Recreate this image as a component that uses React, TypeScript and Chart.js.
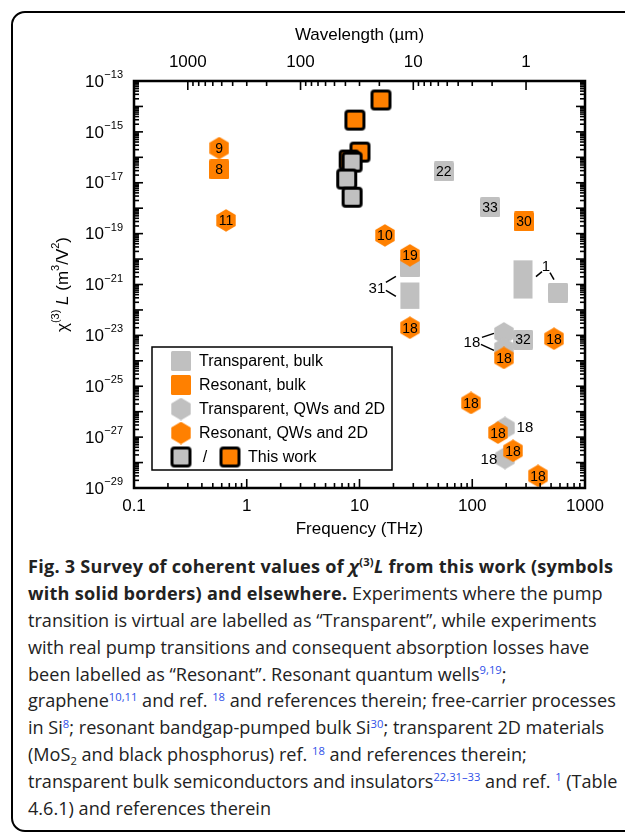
import React, { useEffect, useRef } from 'react';
import { Chart, registerables } from 'chart.js';

Chart.register(...registerables);

const FONT = '"Liberation Sans", Arial, Helvetica, sans-serif';
const ORANGE = '#ff8000';
const GRAY = '#c0c0c0';

// x: frequency (THz), y: chi(3)L (m^3/V^2)
const transparentBulkFreq = [56, 144, 282, 576, 28];
const transparentBulkChi = [2.8e-17, 1.1e-18, 6.8e-24, 4.8e-22, 4.7e-21];
const transparentBulkRefs = ['22', '33', '32', '', ''];

const transparentRangeFreq = [28, 282];
const transparentRangeLow = [1.1e-22, 2.8e-22];
const transparentRangeHigh = [1.2e-21, 8.9e-21];

const resonantBulkFreq = [0.57, 288];
const resonantBulkChi = [3.4e-17, 3.0e-19];
const resonantBulkRefs = ['8', '30'];

const transparentQwFreq = [191, 191, 195, 195];
const transparentQwChi = [1.2e-23, 3.0e-24, 2.3e-27, 1.5e-28];

const resonantQwFreq = [0.57, 0.655, 16.8, 28, 28, 191, 531, 97.5, 169, 230, 383];
const resonantQwChi = [2.3e-16, 3.3e-19, 8.5e-20, 1.4e-20, 2.0e-23, 1.3e-24, 7.4e-24, 2.2e-26, 1.5e-27, 2.9e-28, 3.0e-29];
const resonantQwRefs = ['9', '11', '10', '19', '18', '18', '18', '18', '18', '18', '18'];

const thisWorkTransparentFreq = [8.6, 7.7, 8.6];
const thisWorkTransparentChi = [6.5e-17, 1.4e-17, 2.7e-18];
const thisWorkResonantFreq = [15.5, 9.1, 10.1, 8.1];
const thisWorkResonantChi = [1.8e-14, 2.9e-15, 1.6e-16, 7.8e-17];

const freqTickLabels = ['0.1', '1', '10', '100', '1000'];
const wavelengthTickLabels = ['1000', '100', '10', '1'];
const chiTickExponents = [-13, -15, -17, -19, -21, -23, -25, -27, -29];

const pts = (xs: number[], ys: number[]) => xs.map((x, i) => ({ x, y: ys[i] }));

function hexCanvas(fill: string) {
  const c = document.createElement('canvas');
  c.width = 20;
  c.height = 23;
  const g = c.getContext('2d')!;
  const R = 11.2, cx = 10, cy = 11.5;
  g.beginPath();
  for (let i = 0; i < 6; i++) {
    const a = (Math.PI / 3) * i - Math.PI / 2;
    g.lineTo(cx + R * Math.cos(a), cy + R * Math.sin(a));
  }
  g.closePath();
  g.fillStyle = fill;
  g.fill();
  return c;
}

function rr(g: CanvasRenderingContext2D, x: number, y: number, w: number, h: number, r: number) {
  g.beginPath();
  g.moveTo(x + r, y);
  g.arcTo(x + w, y, x + w, y + h, r);
  g.arcTo(x + w, y + h, x, y + h, r);
  g.arcTo(x, y + h, x, y, r);
  g.arcTo(x, y, x + w, y, r);
  g.closePath();
}

function squareCanvas(fill: string, bordered: boolean) {
  const c = document.createElement('canvas');
  c.width = bordered ? 23 : 20;
  c.height = c.width;
  const g = c.getContext('2d')!;
  if (bordered) {
    rr(g, 2.5, 2.5, 18, 18, 2.5);
    g.fillStyle = fill;
    g.fill();
    g.lineWidth = 3;
    g.strokeStyle = '#000';
    g.stroke();
  } else {
    rr(g, 0, 0, 20, 20, 1.5);
    g.fillStyle = fill;
    g.fill();
  }
  return c;
}

export default function App() {
  const ref = useRef<HTMLCanvasElement>(null);

  useEffect(() => {
    const canvas = ref.current!;
    const hexO = hexCanvas(ORANGE);
    const hexG = hexCanvas(GRAY);
    const sqO = squareCanvas(ORANGE, false);
    const sqG = squareCanvas(GRAY, false);
    const twO = squareCanvas(ORANGE, true);
    const twG = squareCanvas(GRAY, true);

    const rangeSets = transparentRangeFreq.map((f, i) => ({
      key: 'range' + i,
      label: 'Transparent, bulk (range)',
      data: [{ x: f, y: transparentRangeLow[i] }, { x: f, y: transparentRangeHigh[i] }],
      showLine: true,
      borderColor: GRAY,
      borderWidth: 19,
      borderCapStyle: 'butt',
      pointRadius: 0,
      order: 6,
    }));

    const datasets: any[] = [
      { key: 'thisWorkTransparent', label: 'This work', data: pts(thisWorkTransparentFreq, thisWorkTransparentChi), pointStyle: twG, pointRadius: 10, order: 0 },
      { key: 'thisWorkResonant', label: 'This work', data: pts(thisWorkResonantFreq, thisWorkResonantChi), pointStyle: twO, pointRadius: 10, order: 1 },
      { key: 'resonantQw', label: 'Resonant, QWs and 2D', data: pts(resonantQwFreq, resonantQwChi), refs: resonantQwRefs, pointStyle: hexO, pointRadius: 10, order: 2 },
      { key: 'resonantBulk', label: 'Resonant, bulk', data: pts(resonantBulkFreq, resonantBulkChi), refs: resonantBulkRefs, pointStyle: sqO, pointRadius: 10, order: 3 },
      { key: 'transparentQw', label: 'Transparent, QWs and 2D', data: pts(transparentQwFreq, transparentQwChi), pointStyle: hexG, pointRadius: 10, order: 4 },
      { key: 'transparentBulk', label: 'Transparent, bulk', data: pts(transparentBulkFreq, transparentBulkChi), refs: transparentBulkRefs, pointStyle: sqG, pointRadius: 10, order: 5 },
      ...rangeSets,
    ];

    const decor = {
      id: 'decor',
      afterDatasetsDraw(chart: any) {
        const { ctx, chartArea: a } = chart;
        const sx = chart.scales.x, sy = chart.scales.y, sw = chart.scales.wl;
        ctx.save();

        const point = (key: string, idx: number) => {
          const di = chart.data.datasets.findIndex((d: any) => d.key === key);
          const el = chart.getDatasetMeta(di).data[idx];
          return { x: el.x, y: el.y };
        };

        // reference numbers inside markers
        ctx.font = `14px ${FONT}`;
        ctx.fillStyle = '#000';
        ctx.textAlign = 'center';
        ctx.textBaseline = 'middle';
        chart.data.datasets.forEach((ds: any, di: number) => {
          if (!ds.refs) return;
          chart.getDatasetMeta(di).data.forEach((el: any, i: number) => {
            if (ds.refs[i]) ctx.fillText(ds.refs[i], el.x, el.y + 1);
          });
        });

        // callouts
        const callouts = [
          { key: 'transparentBulk', idx: 4, text: '31', dx: -33, dy: 20, lines: [[-24, 15, -14, 9], [-24, 23, -14, 29]] },
          { key: 'transparentBulk', idx: 3, text: '1', dx: -12, dy: -27, lines: [[-16, -21, -22, -16], [-8, -20, -4, -13]] },
          { key: 'transparentQw', idx: 0, text: '18', dx: -32, dy: 8, lines: [[-22, 4, -10, 0], [-23, 11, -10, 17]] },
          { key: 'transparentQw', idx: 2, text: '18', dx: 20, dy: -1, lines: [] },
          { key: 'transparentQw', idx: 3, text: '18', dx: -16, dy: 1, lines: [] },
        ];
        ctx.lineWidth = 1.5;
        ctx.strokeStyle = '#000';
        ctx.font = `15px ${FONT}`;
        callouts.forEach((c) => {
          const p = point(c.key, c.idx);
          ctx.fillText(c.text, p.x + c.dx, p.y + c.dy + 1);
          c.lines.forEach((l) => {
            ctx.beginPath();
            ctx.moveTo(p.x + l[0], p.y + l[1]);
            ctx.lineTo(p.x + l[2], p.y + l[3]);
            ctx.stroke();
          });
        });

        // legend
        const bx = a.left + 18, by = a.bottom - 141, bw = 240, bh = 123;
        ctx.fillStyle = '#fff';
        ctx.fillRect(bx, by, bw, bh);
        ctx.lineWidth = 1.5;
        ctx.strokeRect(bx, by, bw, bh);
        const rows: [any, string][] = [
          [sqG, 'Transparent, bulk'],
          [sqO, 'Resonant, bulk'],
          [hexG, 'Transparent, QWs and 2D'],
          [hexO, 'Resonant, QWs and 2D'],
        ];
        ctx.font = `16px ${FONT}`;
        ctx.textAlign = 'left';
        ctx.fillStyle = '#000';
        rows.forEach(([img, txt], i) => {
          const cy = by + 14 + 24 * i;
          ctx.drawImage(img, bx + 29 - img.width / 2, cy - img.height / 2);
          ctx.fillText(txt, bx + 47, cy + 1);
        });
        const cy5 = by + 14 + 24 * 4;
        ctx.drawImage(twG, bx + 29 - twG.width / 2, cy5 - twG.height / 2);
        ctx.textAlign = 'center';
        ctx.fillText('/', bx + 53, cy5 + 1);
        ctx.drawImage(twO, bx + 78 - twO.width / 2, cy5 - twO.height / 2);
        ctx.textAlign = 'left';
        ctx.fillText('This work', bx + 96, cy5 + 1);

        // frame
        ctx.lineWidth = 2.5;
        ctx.strokeRect(a.left, a.top, a.right - a.left, a.bottom - a.top);

        // ticks
        ctx.lineWidth = 1.6;
        const tick = (x1: number, y1: number, x2: number, y2: number) => {
          ctx.beginPath();
          ctx.moveTo(x1, y1);
          ctx.lineTo(x2, y2);
          ctx.stroke();
        };
        for (let d = -1; d <= 3; d++) {
          for (let m = 1; m <= 9; m++) {
            const v = m * Math.pow(10, d);
            if (v > 1000.001) break;
            const x = sx.getPixelForValue(v);
            tick(x, a.bottom, x, a.bottom - (m === 1 ? 9 : 5));
          }
        }
        for (let d = 0; d <= 3; d++) {
          for (let m = 1; m <= 9; m++) {
            const v = m * Math.pow(10, d);
            if (v > 1000.001) break;
            const x = sw.getPixelForValue(v);
            tick(x, a.top, x, a.top + (m === 1 ? 9 : 5));
          }
        }
        for (let d = -29; d <= -13; d++) {
          for (let m = 1; m <= 9; m++) {
            if (d === -13 && m > 1) break;
            const y = sy.getPixelForValue(m * Math.pow(10, d));
            const L = m === 1 ? 9 : 5;
            tick(a.left, y, a.left + L, y);
            tick(a.right, y, a.right - L, y);
          }
        }

        // tick labels
        ctx.fillStyle = '#000';
        ctx.textAlign = 'center';
        ctx.textBaseline = 'middle';
        ctx.font = `17px ${FONT}`;
        freqTickLabels.forEach((t) => {
          ctx.fillText(t, sx.getPixelForValue(parseFloat(t)), a.bottom + 18);
        });
        wavelengthTickLabels.forEach((t) => {
          ctx.fillText(t, sw.getPixelForValue(parseFloat(t)), a.top - 19);
        });
        ctx.textAlign = 'right';
        chiTickExponents.forEach((e) => {
          const y = sy.getPixelForValue(Math.pow(10, e));
          const xr = a.left - 11;
          ctx.font = `11px ${FONT}`;
          const exp = '\u2212' + Math.abs(e);
          const ew = ctx.measureText(exp).width;
          ctx.fillText(exp, xr, y - 6);
          ctx.font = `17px ${FONT}`;
          ctx.fillText('10', xr - ew - 0.5, y + 1);
        });

        // axis titles
        ctx.textAlign = 'center';
        ctx.font = `17px ${FONT}`;
        ctx.fillText('Frequency (THz)', (a.left + a.right) / 2, a.bottom + 41);
        ctx.fillText('Wavelength (\u00b5m)', (a.left + a.right) / 2, a.top - 46);

        // y title (rotated, with superscripts)
        const parts = [
          { t: '\u03c7', f: `17px ${FONT}`, dy: 0 },
          { t: '(3)', f: `11px ${FONT}`, dy: -7 },
          { t: ' L', f: `italic 17px ${FONT}`, dy: 0 },
          { t: ' (m', f: `17px ${FONT}`, dy: 0 },
          { t: '3', f: `11px ${FONT}`, dy: -7 },
          { t: '/V', f: `17px ${FONT}`, dy: 0 },
          { t: '2', f: `11px ${FONT}`, dy: -7 },
          { t: ')', f: `17px ${FONT}`, dy: 0 },
        ];
        let total = 0;
        const widths = parts.map((p) => {
          ctx.font = p.f;
          const w = ctx.measureText(p.t).width;
          total += w;
          return w;
        });
        ctx.save();
        ctx.translate(a.left - 72, (a.top + a.bottom) / 2);
        ctx.rotate(-Math.PI / 2);
        ctx.textAlign = 'left';
        let cx = -total / 2;
        parts.forEach((p, i) => {
          ctx.font = p.f;
          ctx.fillText(p.t, cx, p.dy + 1);
          cx += widths[i];
        });
        ctx.restore();

        ctx.restore();
      },
    };

    const chart = new Chart(canvas, {
      type: 'scatter',
      data: { datasets },
      options: {
        animation: false,
        responsive: false,
        events: [],
        layout: { padding: { left: 134, top: 81, right: 40, bottom: 57 } },
        plugins: { legend: { display: false }, tooltip: { enabled: false } },
        scales: {
          x: { type: 'logarithmic', position: 'bottom', min: 0.1, max: 1000, display: false },
          y: { type: 'logarithmic', position: 'left', min: 1e-29, max: 1e-13, display: false },
          wl: { type: 'logarithmic', axis: 'x', position: 'top', min: 0.3, max: 3000, reverse: true, display: false },
        },
      } as any,
      plugins: [decor],
    } as any);
    return () => chart.destroy();
  }, []);

  const sup: React.CSSProperties = { fontSize: '0.62em', position: 'relative', top: '-0.6em', lineHeight: 0, color: '#2f4fe8' };
  const line: React.CSSProperties = { height: 26.9, lineHeight: '26.9px', whiteSpace: 'nowrap' };

  return (
    <div style={{ position: 'absolute', left: 0, top: 0, width: 625, height: 833, overflow: 'hidden', background: '#fff' }}>
      <div style={{ position: 'absolute', left: 11, top: 11, width: 700, height: 821, border: '2.5px solid #000', borderRadius: 14, boxSizing: 'border-box' }} />
      <canvas ref={ref} width={625} height={545} style={{ position: 'absolute', left: 0, top: 0, display: 'block' }} />
      <div style={{ position: 'absolute', left: 28, top: 553, fontFamily: '"Open Sans", "Noto Sans", sans-serif', fontSize: 18.1, color: '#222' }}>
        <div style={{ ...line, fontWeight: 700, letterSpacing: '0.25px' }}>
          Fig. 3 Survey of coherent values of <i>χ</i><span style={{ ...sup, color: '#222' }}>(3)</span><i>L</i> from this work (symbols
        </div>
        <div style={line}>
          <b style={{ letterSpacing: '0.25px' }}>with solid borders) and elsewhere.</b> Experiments where the pump
        </div>
        <div style={line}>transition is virtual are labelled as “Transparent”, while experiments</div>
        <div style={line}>with real pump transitions and consequent absorption losses have</div>
        <div style={line}>
          been labelled as “Resonant”. Resonant quantum wells<span style={sup}>9,19</span>;
        </div>
        <div style={line}>
          graphene<span style={sup}>10,11</span> and ref. <span style={sup}>18</span> and references therein; free-carrier processes
        </div>
        <div style={line}>
          in Si<span style={sup}>8</span>; resonant bandgap-pumped bulk Si<span style={sup}>30</span>; transparent 2D materials
        </div>
        <div style={line}>
          (MoS<span style={{ fontSize: '0.62em', position: 'relative', top: '0.3em', lineHeight: 0 }}>2</span> and black phosphorus) ref. <span style={sup}>18</span> and references therein;
        </div>
        <div style={line}>
          transparent bulk semiconductors and insulators<span style={sup}>22,31–33</span> and ref. <span style={sup}>1</span> (Table
        </div>
        <div style={line}>4.6.1) and references therein</div>
      </div>
    </div>
  );
}
